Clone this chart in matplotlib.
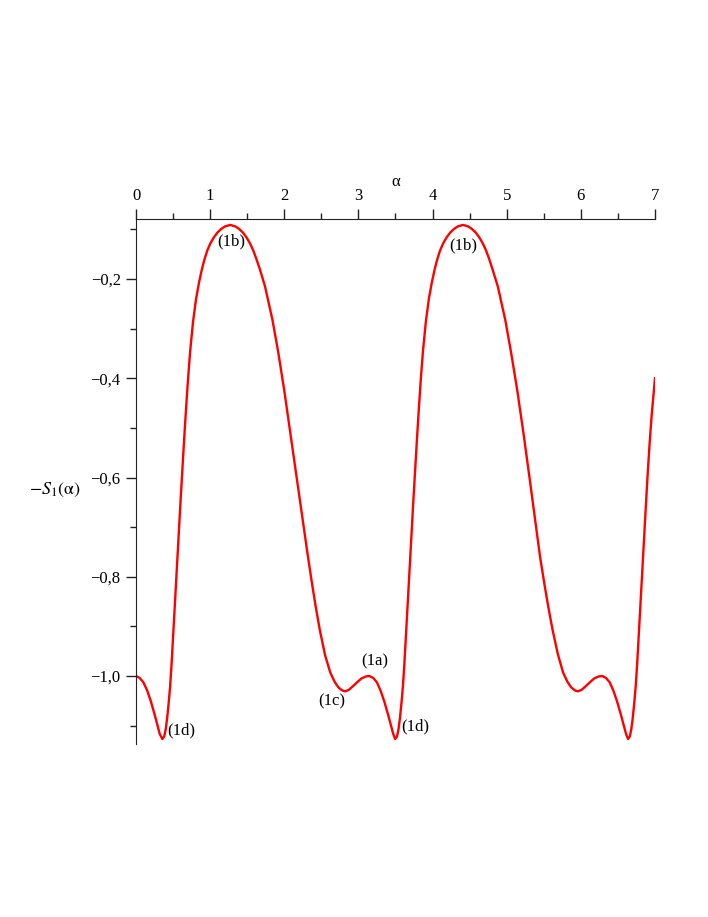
import matplotlib
matplotlib.use('Agg')
import matplotlib.pyplot as plt
from matplotlib.ticker import MultipleLocator, FuncFormatter

plt.rcParams['font.family'] = ['Liberation Serif', 'DejaVu Serif']
plt.rcParams['mathtext.fontset'] = 'stix'

# curve
alpha = [0.00, 0.05, 0.10, 0.15, 0.20, 0.25, 0.29, 0.32, 0.355, 0.38,
         0.40, 0.42, 0.44, 0.46, 0.48, 0.50, 0.525, 0.55, 0.575, 0.60,
         0.625, 0.65, 0.675, 0.70, 0.73, 0.77, 0.81, 0.85, 0.886, 0.92,
         0.96, 1.00, 1.05, 1.10, 1.15, 1.20, 1.27, 1.34, 1.39, 1.44,
         1.49, 1.54, 1.58, 1.62, 1.672, 1.74, 1.84, 1.92, 2.00, 2.086,
         2.167, 2.257, 2.31, 2.37, 2.42, 2.48, 2.55, 2.62, 2.68, 2.73,
         2.78, 2.82, 2.87, 2.93, 2.98, 3.04, 3.10, 3.147, 3.20, 3.25,
         3.30, 3.35, 3.40, 3.44, 3.47, 3.495, 3.52, 3.54, 3.56, 3.58,
         3.60, 3.62, 3.64, 3.665, 3.69, 3.715, 3.74, 3.765, 3.79, 3.815,
         3.84, 3.87, 3.91, 3.95, 3.99, 4.026, 4.06, 4.10, 4.14, 4.19,
         4.24, 4.29, 4.34, 4.41, 4.48, 4.53, 4.58, 4.63, 4.68, 4.72,
         4.76, 4.81, 4.88, 4.98, 5.06, 5.14, 5.23, 5.31, 5.40, 5.45,
         5.51, 5.56, 5.62, 5.69, 5.76, 5.82, 5.87, 5.92, 5.96, 6.01,
         6.07, 6.12, 6.18, 6.24, 6.29, 6.34, 6.39, 6.44, 6.49, 6.54,
         6.58, 6.61, 6.637, 6.66, 6.68, 6.70, 6.72, 6.74, 6.76, 6.78,
         6.805, 6.83, 6.855, 6.88, 6.905, 6.93, 6.955, 6.98, 7.00]
s1 = [-1.000, -1.004, -1.013, -1.029, -1.051, -1.077, -1.100, -1.117, -1.127, -1.122,
      -1.108, -1.085, -1.055, -1.021, -0.975, -0.922, -0.853, -0.784, -0.716, -0.649,
      -0.584, -0.521, -0.461, -0.405, -0.346, -0.285, -0.240, -0.207, -0.182, -0.162,
      -0.143, -0.129, -0.116, -0.106, -0.099, -0.094, -0.091, -0.094, -0.099, -0.106,
      -0.116, -0.129, -0.142, -0.158, -0.181, -0.215, -0.282, -0.349, -0.425, -0.515,
      -0.600, -0.695, -0.750, -0.810, -0.857, -0.908, -0.958, -0.993, -1.012, -1.023,
      -1.029, -1.031, -1.028, -1.020, -1.013, -1.005, -1.001, -1.000, -1.004, -1.013,
      -1.030, -1.052, -1.078, -1.100, -1.117, -1.127, -1.122, -1.108, -1.085, -1.055,
      -1.021, -0.975, -0.922, -0.853, -0.784, -0.716, -0.649, -0.584, -0.521, -0.461,
      -0.405, -0.346, -0.285, -0.240, -0.207, -0.182, -0.162, -0.143, -0.129, -0.116,
      -0.106, -0.099, -0.094, -0.091, -0.094, -0.099, -0.106, -0.116, -0.129, -0.142,
      -0.158, -0.181, -0.215, -0.282, -0.349, -0.422, -0.515, -0.603, -0.705, -0.760,
      -0.816, -0.860, -0.908, -0.956, -0.993, -1.012, -1.023, -1.029, -1.031, -1.028,
      -1.020, -1.013, -1.005, -1.001, -1.000, -1.004, -1.013, -1.030, -1.052, -1.078,
      -1.100, -1.117, -1.127, -1.122, -1.108, -1.085, -1.055, -1.021, -0.975, -0.922,
      -0.853, -0.784, -0.716, -0.649, -0.584, -0.526, -0.475, -0.432, -0.400]

# point labels
lbl_text = ['(1b)', '(1b)', '(1a)', '(1c)', '(1d)', '(1d)']
lbl_x = [1.281, 4.41, 3.224, 2.644, 0.607, 3.763]
lbl_y = [-0.125, -0.133, -0.970, -1.052, -1.109, -1.101]

fig = plt.figure(figsize=(7.08, 9.17), dpi=100)
ax = fig.add_axes([0.1921, 0.1887, 0.733, 0.5725])

ax.plot(alpha, s1, color='#ff0000', lw=1.7, solid_joinstyle='round')

for t, x, y in zip(lbl_text, lbl_x, lbl_y):
    ax.text(x, y, t, ha='center', va='center', fontsize=12)

ax.set_xlim(0, 7)
ax.set_ylim(-1.137, -0.079)

ax.spines['right'].set_visible(False)
ax.spines['bottom'].set_visible(False)
ax.spines['top'].set_color('#222222')
ax.spines['left'].set_color('#222222')

ax.xaxis.tick_top()
ax.xaxis.set_major_locator(MultipleLocator(1))
ax.xaxis.set_minor_locator(MultipleLocator(0.5))
ax.yaxis.set_major_locator(MultipleLocator(0.2))
ax.yaxis.set_minor_locator(MultipleLocator(0.1))
ax.yaxis.set_major_formatter(FuncFormatter(
    lambda v, p: ('%.1f' % v).replace('.', ',').replace('-', '\u2212')))
ax.xaxis.set_major_formatter(FuncFormatter(lambda v, p: '%d' % v))

ax.tick_params(which='major', length=7, width=1, color='#222222', labelsize=12, pad=4)
ax.tick_params(which='minor', length=4, width=1, color='#222222')

ax.set_xlabel('α', fontsize=12)
ax.xaxis.set_label_position('top')
ax.xaxis.set_label_coords(0.501, 1.063)

ax.set_ylabel(r'$-S_1(\mathrm{\alpha})$', fontsize=13, rotation=0, ha='center', va='center')
ax.yaxis.set_label_coords(-0.156, 0.484)

fig.savefig('out.png', dpi=100)
